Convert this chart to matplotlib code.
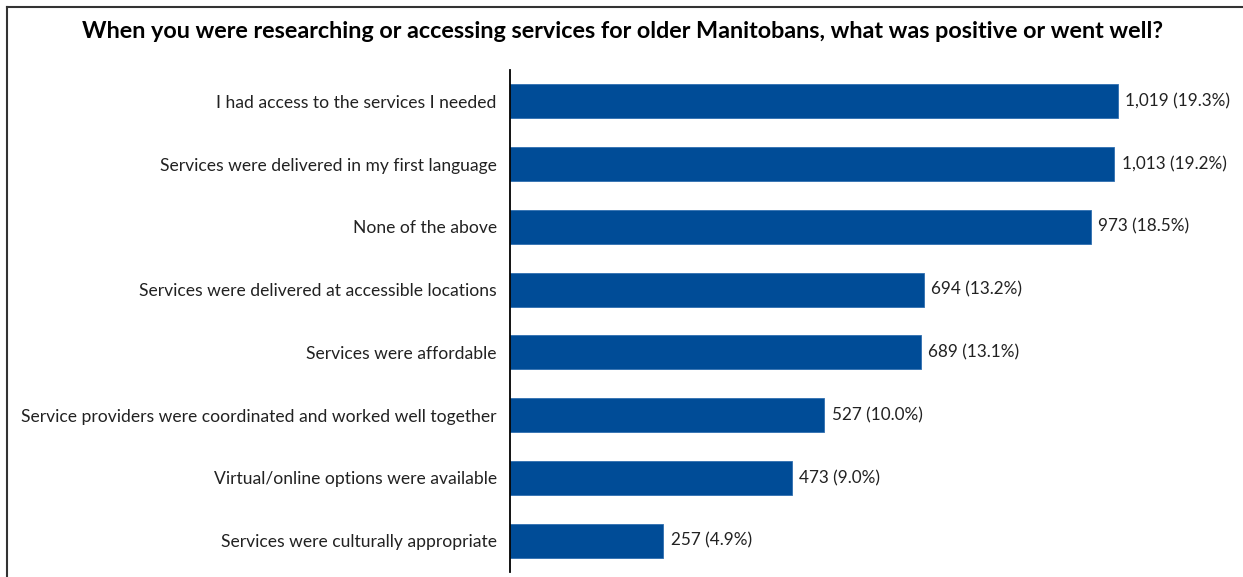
import matplotlib.pyplot as plt
from matplotlib.lines import Line2D

categories = [
    'I had access to the services I needed',
    'Services were delivered in my first language',
    'None of the above',
    'Services were delivered at accessible locations',
    'Services were affordable',
    'Service providers were coordinated and worked well together',
    'Virtual/online options were available',
    'Services were culturally appropriate',
]
counts = [1019, 1013, 973, 694, 689, 527, 473, 257]
percents = [19.3, 19.2, 18.5, 13.2, 13.1, 10.0, 9.0, 4.9]

title = ('When you were researching or accessing services for older '
         'Manitobans, what was positive or went well?')

plt.rcParams['font.family'] = ['Lato', 'DejaVu Sans']

W, H = 1243, 577
fig = plt.figure(figsize=(W / 100, H / 100), dpi=100)
ax = fig.add_axes([510 / W, 1 - 572 / H, (W - 510) / W, 502 / H])

ypos = list(range(len(categories)))
ax.barh(ypos, counts, height=0.54, color='#004C97', edgecolor='#2f6fb0',
        linewidth=0.6)
for y, c, p in zip(ypos, counts, percents):
    ax.text(c + 12, y, f'{c:,} ({p:.1f}%)', va='center', ha='left',
            fontsize=12.3, color='#222222')

ax.set_ylim(len(categories) - 0.5, -0.5)
ax.set_xlim(0, (W - 510) / 0.5967)
ax.set_yticks(ypos)
ax.set_yticklabels(categories, fontsize=12.6, color='#222222')
ax.tick_params(axis='y', length=0, pad=9.5)
ax.set_xticks([])
for side in ['top', 'right', 'bottom']:
    ax.spines[side].set_visible(False)
ax.spines['left'].set_linewidth(1.3)
ax.spines['left'].set_color('black')

fig.text(622 / W, 1 - 32 / H, title, ha='center', va='center',
         fontsize=16.8, fontweight='bold', color='black')

# frame along the top and left edges
fig.add_artist(Line2D([7 / W, 1], [1 - 7 / H, 1 - 7 / H], color='#333333',
                      linewidth=1.5, transform=fig.transFigure))
fig.add_artist(Line2D([7 / W, 7 / W], [0, 1 - 7 / H], color='#333333',
                      linewidth=1.5, transform=fig.transFigure))

fig.savefig('out.png', dpi=100)
